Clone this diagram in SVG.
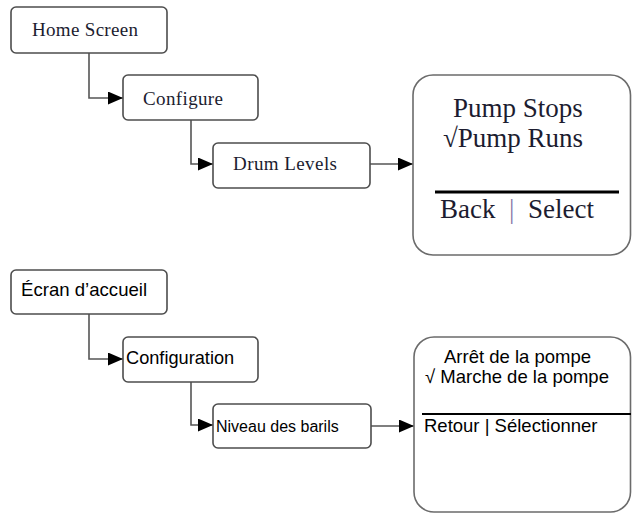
<svg xmlns="http://www.w3.org/2000/svg" width="632" height="514" viewBox="0 0 632 514">
<style>
.box{fill:#fff;stroke:#4d4d4d;stroke-width:1.6}
.phone{fill:#fff;stroke:#6b6b6b;stroke-width:1.6}
.conn{fill:none;stroke:#555;stroke-width:1.6}
.serif{font-family:"Liberation Serif","Times New Roman",serif;fill:#1c1c30}
.sans{font-family:"Liberation Sans",Arial,sans-serif;fill:#000}
</style>
<defs>
<marker id="arr" markerUnits="userSpaceOnUse" markerWidth="16" markerHeight="14" refX="15" refY="6.5" orient="auto">
<path d="M0,0 L15,6.5 L0,13 Z" fill="#000"/>
</marker>
</defs>
<rect width="632" height="514" fill="#fff"/>
<g id="connectors">
<path class="conn" d="M89,53 V98 H123" marker-end="url(#arr)"/>
<path class="conn" d="M191,120 V164 H213" marker-end="url(#arr)"/>
<path class="conn" d="M370,164 H413" marker-end="url(#arr)"/>
<path class="conn" d="M89,314 V359 H123" marker-end="url(#arr)"/>
<path class="conn" d="M191,382 V425 H213" marker-end="url(#arr)"/>
<path class="conn" d="M371,426 H414" marker-end="url(#arr)"/>
</g>
<g id="home-screen">
<rect class="box" x="11" y="7" width="156" height="46" rx="5"/>
<text class="serif" x="32" y="36" font-size="19" textLength="106">Home Screen</text>
</g>
<g id="configure">
<rect class="box" x="123" y="75" width="135" height="45" rx="5"/>
<text class="serif" x="143" y="105" font-size="19" textLength="80">Configure</text>
</g>
<g id="drum-levels">
<rect class="box" x="213" y="143" width="157" height="45" rx="5"/>
<text class="serif" x="233" y="170" font-size="19" textLength="104">Drum Levels</text>
</g>
<g id="screen-en">
<rect class="phone" x="413" y="75" width="217.5" height="180" rx="20"/>
<text class="serif" x="453" y="117" font-size="27">Pump Stops</text>
<text class="serif" x="443" y="147" font-size="27">√Pump Runs</text>
<line x1="435" y1="192" x2="619" y2="192" stroke="#000" stroke-width="3"/>
<text class="serif" y="218" font-size="27"><tspan x="440">Back</tspan><tspan x="509" fill="#8878a8">|</tspan><tspan x="528">Select</tspan></text>
</g>
<g id="ecran-accueil">
<rect class="box" x="11" y="270" width="156" height="44" rx="5"/>
<text class="sans" x="21" y="296" font-size="18.6">Écran d’accueil</text>
</g>
<g id="configuration">
<rect class="box" x="123" y="337" width="135" height="45" rx="5"/>
<text class="sans" x="126" y="364" font-size="18.2">Configuration</text>
</g>
<g id="niveau-des-barils">
<rect class="box" x="213" y="404" width="158" height="44" rx="5"/>
<text class="sans" x="216" y="432" font-size="16">Niveau des barils</text>
</g>
<g id="screen-fr">
<rect class="phone" x="414" y="337" width="216.5" height="175" rx="20"/>
<text class="sans" x="444" y="363" font-size="18.5">Arrêt de la pompe</text>
<text class="sans" x="425" y="383" font-size="18.5">√ Marche de la pompe</text>
<line x1="422" y1="414" x2="631" y2="414" stroke="#000" stroke-width="2"/>
<text class="sans" x="424" y="432" font-size="18.5">Retour | Sélectionner</text>
</g>
</svg>
